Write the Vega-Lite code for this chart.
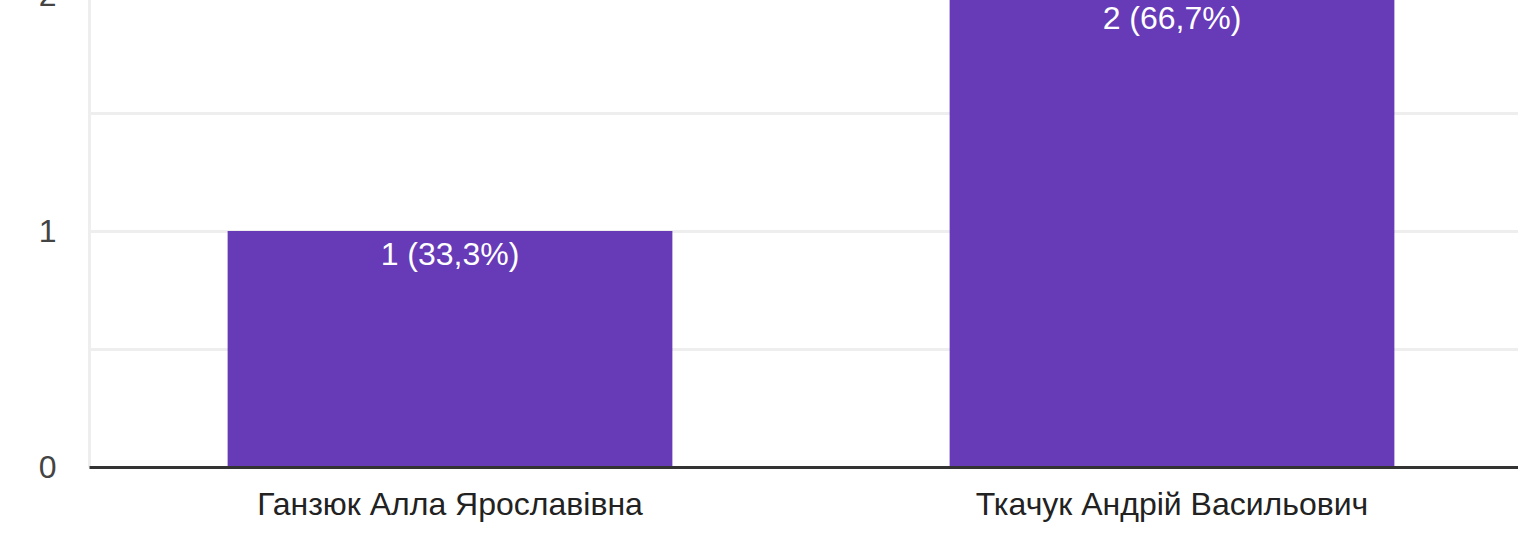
{
  "$schema": "https://vega.github.io/schema/vega-lite/v6.json",
  "autosize": "none",
  "width": 1444,
  "height": 472,
  "padding": {"left": 89, "top": -5, "right": -15, "bottom": 74},
  "background": "white",
  "config": {
    "view": {"stroke": null},
    "font": "Liberation Sans"
  },
  "data": {
    "values": [
      {"name": "Ганзюк Алла Ярославівна", "count": 1, "label": "1 (33,3%)"},
      {"name": "Ткачук Андрій Васильович", "count": 2, "label": "2 (66,7%)"}
    ]
  },
  "encoding": {
    "x": {
      "field": "name",
      "type": "nominal",
      "sort": null,
      "scale": {"paddingInner": 0.384, "paddingOuter": 0.192},
      "axis": {
        "title": null,
        "labelAngle": 0,
        "labelFontSize": 32,
        "labelLimit": 0,
        "labelColor": "#222222",
        "labelPadding": 22,
        "ticks": false,
        "domainColor": "#333333",
        "domainWidth": 3,
        "zindex": 1
      }
    },
    "y": {
      "field": "count",
      "type": "quantitative",
      "scale": {"domain": [0, 2], "nice": false},
      "axis": {
        "title": null,
        "values": [0, 0.5, 1, 1.5, 2],
        "format": ".0f",
        "labelExpr": "datum.value % 1 == 0 ? datum.label : ''",
        "labelFontSize": 32,
        "labelColor": "#444444",
        "labelPadding": 33,
        "ticks": false,
        "domainColor": "#eeeeee",
        "domainWidth": 3,
        "gridColor": "#eeeeee",
        "gridWidth": 3
      }
    }
  },
  "layer": [
    {"mark": {"type": "bar", "color": "#673ab7"}},
    {
      "mark": {"type": "text", "color": "white", "fontSize": 32, "baseline": "middle", "dy": 24},
      "encoding": {"text": {"field": "label"}}
    }
  ]
}
